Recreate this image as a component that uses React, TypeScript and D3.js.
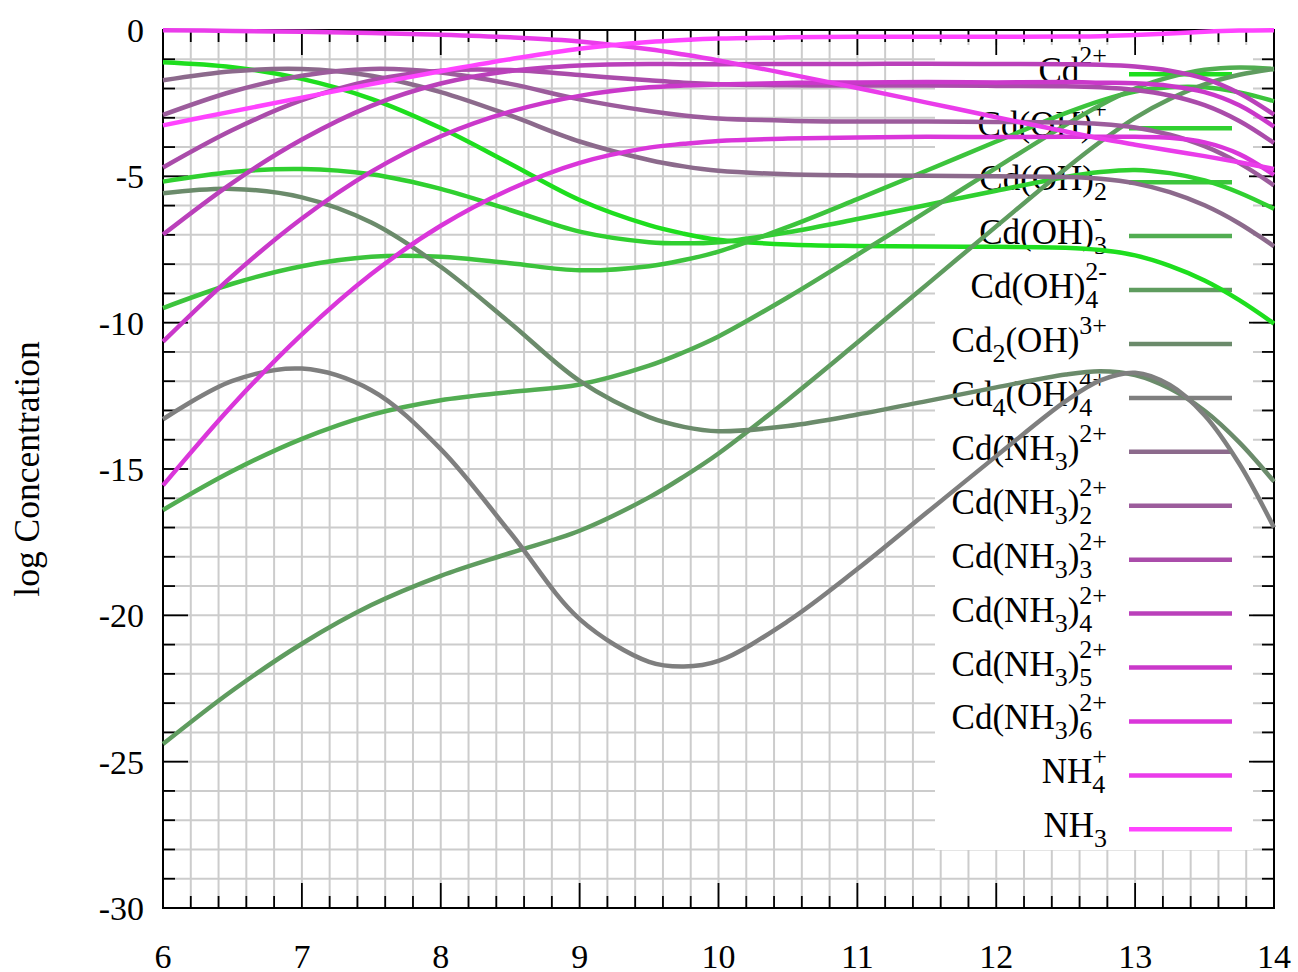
import React from 'react';
import * as d3 from 'd3';

const W = 1298;
const H = 972;
const M = { left: 163, right: 1274, top: 30, bottom: 908 };

// pH sample points
const pH = [6, 6.5, 7, 7.5, 8, 8.5, 9, 9.5, 9.75, 10, 10.5, 11, 11.5, 12, 12.5, 12.75, 13, 13.25, 13.5, 13.75, 14];

// log concentrations
const cd = [-1.10, -1.27, -1.67, -2.35, -3.35, -4.57, -5.81, -6.67, -6.96, -7.17, -7.33, -7.38, -7.40, -7.41, -7.44, -7.52, -7.70, -8.06, -8.56, -9.23, -10.03];
const cdOH = [-5.18, -4.85, -4.75, -4.93, -5.43, -6.15, -6.89, -7.25, -7.29, -7.25, -6.91, -6.46, -5.98, -5.49, -5.02, -4.85, -4.78, -4.89, -5.14, -5.56, -6.11];
const cdOH2 = [-9.50, -8.67, -8.07, -7.75, -7.75, -7.97, -8.21, -8.07, -7.86, -7.57, -6.73, -5.78, -4.80, -3.81, -2.84, -2.42, -2.10, -1.96, -1.96, -2.13, -2.43];
const cdOH3 = [-16.40, -15.07, -13.97, -13.15, -12.65, -12.37, -12.11, -11.47, -11.01, -10.47, -9.13, -7.68, -6.20, -4.71, -3.24, -2.57, -2.00, -1.61, -1.36, -1.28, -1.33];
const cdOH4 = [-24.40, -22.57, -20.97, -19.65, -18.65, -17.87, -17.11, -15.97, -15.26, -14.47, -12.63, -10.68, -8.70, -6.71, -4.74, -3.82, -3.00, -2.36, -1.86, -1.53, -1.33];
const cd2OH = [-5.58, -5.43, -5.72, -6.58, -8.09, -10.01, -11.99, -13.23, -13.56, -13.71, -13.53, -13.14, -12.68, -12.21, -11.77, -11.66, -11.79, -12.25, -13.01, -14.09, -15.43];
const cd4OH4 = [-13.30, -11.99, -11.57, -12.31, -14.32, -17.17, -20.13, -21.59, -21.75, -21.56, -20.20, -18.42, -16.49, -14.56, -12.68, -11.97, -11.71, -12.13, -13.16, -14.82, -17.00];
const cdNH3_1 = [-1.72, -1.41, -1.33, -1.56, -2.12, -2.92, -3.81, -4.44, -4.66, -4.81, -4.93, -4.97, -4.98, -5.00, -5.02, -5.08, -5.24, -5.54, -5.99, -6.61, -7.39];
const cdNH3_2 = [-2.90, -2.10, -1.56, -1.33, -1.45, -1.84, -2.37, -2.77, -2.92, -3.02, -3.10, -3.13, -3.13, -3.14, -3.16, -3.21, -3.33, -3.58, -3.97, -4.55, -5.31];
const cdNH3_3 = [-4.70, -3.42, -2.40, -1.72, -1.39, -1.37, -1.54, -1.72, -1.80, -1.85, -1.89, -1.90, -1.90, -1.91, -1.92, -1.96, -2.05, -2.24, -2.57, -3.11, -3.86];
const cdNH3_4 = [-6.99, -5.22, -3.74, -2.59, -1.83, -1.40, -1.21, -1.16, -1.17, -1.17, -1.16, -1.16, -1.15, -1.16, -1.17, -1.19, -1.25, -1.39, -1.66, -2.16, -2.89];
const cdNH3_5 = [-10.65, -8.40, -6.44, -4.84, -3.63, -2.79, -2.25, -1.96, -1.90, -1.86, -1.81, -1.79, -1.78, -1.79, -1.78, -1.80, -1.82, -1.91, -2.12, -2.57, -3.30];
const cdNH3_6 = [-15.56, -12.82, -10.40, -8.34, -6.69, -5.44, -4.54, -4.02, -3.89, -3.79, -3.71, -3.67, -3.65, -3.66, -3.65, -3.65, -3.65, -3.68, -3.84, -4.24, -4.95];
const nh4 = [-0.01, -0.03, -0.06, -0.10, -0.16, -0.25, -0.39, -0.66, -0.84, -1.04, -1.50, -1.98, -2.48, -2.98, -3.47, -3.71, -3.92, -4.12, -4.31, -4.52, -4.75];
const nh3 = [-3.26, -2.78, -2.31, -1.85, -1.41, -1.00, -0.64, -0.41, -0.34, -0.29, -0.25, -0.23, -0.23, -0.23, -0.22, -0.21, -0.17, -0.12, -0.06, -0.02, -0.005];

const xTickLabels = [6, 7, 8, 9, 10, 11, 12, 13, 14];
const yTickLabels = [0, -5, -10, -15, -20, -25, -30];

const colors = [
  '#1ede1e', '#30d030', '#3cc43c', '#52ad52', '#5f9c5f', '#6b8b6b', '#7f7f7f',
  '#8c6a8c', '#9c5c9c', '#aa4caa', '#ba40ba', '#ca38ca', '#da36da', '#ea3cea', '#ff44ff',
];

type Seg = { t?: string; sub?: string; sup?: string };
const labels: Seg[][] = [
  [{ t: 'Cd' }, { sup: '2+' }],
  [{ t: 'Cd(OH)' }, { sup: '+' }],
  [{ t: 'Cd(OH)' }, { sub: '2' }],
  [{ t: 'Cd(OH)' }, { sub: '3', sup: '-' }],
  [{ t: 'Cd(OH)' }, { sub: '4', sup: '2-' }],
  [{ t: 'Cd' }, { sub: '2' }, { t: '(OH)' }, { sup: '3+' }],
  [{ t: 'Cd' }, { sub: '4' }, { t: '(OH)' }, { sub: '4', sup: '4+' }],
  [{ t: 'Cd(NH' }, { sub: '3' }, { t: ')' }, { sup: '2+' }],
  [{ t: 'Cd(NH' }, { sub: '3' }, { t: ')' }, { sub: '2', sup: '2+' }],
  [{ t: 'Cd(NH' }, { sub: '3' }, { t: ')' }, { sub: '3', sup: '2+' }],
  [{ t: 'Cd(NH' }, { sub: '3' }, { t: ')' }, { sub: '4', sup: '2+' }],
  [{ t: 'Cd(NH' }, { sub: '3' }, { t: ')' }, { sub: '5', sup: '2+' }],
  [{ t: 'Cd(NH' }, { sub: '3' }, { t: ')' }, { sub: '6', sup: '2+' }],
  [{ t: 'NH' }, { sub: '4', sup: '+' }],
  [{ t: 'NH' }, { sub: '3' }],
];

const seriesValues = [cd, cdOH, cdOH2, cdOH3, cdOH4, cd2OH, cd4OH4, cdNH3_1, cdNH3_2, cdNH3_3, cdNH3_4, cdNH3_5, cdNH3_6, nh4, nh3];

const FONT = "'Liberation Serif', 'Times New Roman', serif";
const MAIN_FS = 35;
const SMALL_FS = 26;
const SUB_DY = 10;
const SUP_DY = -18;

function charW(ch: string) {
  if (ch === '+') return 0.564;
  if (ch === '-') return 0.333;
  return 0.5;
}
function strW(s: string) {
  let w = 0;
  for (const c of s) w += charW(c);
  return w * SMALL_FS;
}

function Label({ segs, x, y }: { segs: Seg[]; x: number; y: number }) {
  const parts: React.ReactNode[] = [];
  let cur = 0;
  segs.forEach((s, i) => {
    if (s.t) {
      parts.push(
        <tspan key={i + 't'} dy={-cur} fontSize={MAIN_FS}>{s.t}</tspan>
      );
      cur = 0;
    } else {
      const items: { txt: string; off: number }[] = [];
      if (s.sub) items.push({ txt: s.sub, off: SUB_DY });
      if (s.sup) items.push({ txt: s.sup, off: SUP_DY });
      items.sort((a, b) => strW(a.txt) - strW(b.txt));
      items.forEach((it, j) => {
        const dx = j > 0 ? -strW(items[j - 1].txt) : 0;
        parts.push(
          <tspan key={i + 's' + j} dx={dx} dy={it.off - cur} fontSize={SMALL_FS}>{it.txt}</tspan>
        );
        cur = it.off;
      });
    }
  });
  return (
    <text x={x} y={y} textAnchor="end" fontFamily={FONT} fill="#000">{parts}</text>
  );
}

export default function App() {
  const x = d3.scaleLinear().domain([6, 14]).range([M.left, M.right]);
  const y = d3.scaleLinear().domain([-30, 0]).range([M.bottom, M.top]);

  const xGrid = d3.range(0, 41).map((i) => 6 + i * 0.2);
  const yGrid = d3.range(-30, 1);

  const line = d3
    .line<number>()
    .x((_, i) => x(pH[i]))
    .y((d) => y(d))
    .curve(d3.curveCatmullRom.alpha(0.5));

  const legX0 = 1129;
  const legX1 = 1232;
  const legY0 = 74.3;
  const legStep = 53.93;

  return (
    <svg
      width={W}
      height={H}
      viewBox={`0 0 ${W} ${H}`}
      style={{ position: 'absolute', left: 0, top: 0, background: '#fff' }}
    >
      <rect x={0} y={0} width={W} height={H} fill="#fff" />
      {/* grid */}
      <g stroke="#cccccc" strokeWidth={2}>
        {xGrid.slice(1, -1).map((v, i) => (
          <line key={'gx' + i} x1={x(v)} x2={x(v)} y1={M.top} y2={M.bottom} />
        ))}
        {yGrid.slice(1, -1).map((v, i) => (
          <line key={'gy' + i} x1={M.left} x2={M.right} y1={y(v)} y2={y(v)} />
        ))}
      </g>
      {/* legend background */}
      <rect x={935} y={45} width={318} height={805} fill="#fff" />
      {/* ticks and frame */}
      <g stroke="#000" strokeWidth={1.8}>
        {xGrid.map((v, i) => {
          const major = i % 5 === 0;
          const L = major ? 25 : 12;
          return (
            <g key={'tx' + i}>
              <line x1={x(v)} x2={x(v)} y1={M.bottom} y2={M.bottom - L} />
              <line x1={x(v)} x2={x(v)} y1={M.top} y2={M.top + L} />
            </g>
          );
        })}
        {yGrid.map((v, i) => {
          const major = v % 5 === 0;
          const L = major ? 25 : 12;
          return (
            <g key={'ty' + i}>
              <line x1={M.left} x2={M.left + L} y1={y(v)} y2={y(v)} />
              <line x1={M.right} x2={M.right - L} y1={y(v)} y2={y(v)} />
            </g>
          );
        })}
        <rect x={M.left} y={M.top} width={M.right - M.left} height={M.bottom - M.top} fill="none" strokeWidth={2} />
      </g>
      {/* tick labels */}
      <g fontFamily={FONT} fontSize={34} fill="#000">
        {yTickLabels.map((v) => (
          <text key={'yl' + v} x={144} y={y(v)} dy="0.35em" textAnchor="end">{v}</text>
        ))}
        {xTickLabels.map((v) => (
          <text key={'xl' + v} x={x(v)} y={968} textAnchor="middle">{v}</text>
        ))}
        <text transform={`translate(39, 469) rotate(-90)`} textAnchor="middle" fontSize={35.5}>log Concentration</text>
      </g>
      {/* legend */}
      {labels.map((segs, i) => {
        const ly = legY0 + i * legStep;
        return (
          <g key={'leg' + i}>
            <Label segs={segs} x={1107} y={ly + 8} />
            <line x1={legX0} x2={legX1} y1={ly} y2={ly} stroke={colors[i]} strokeWidth={4.5} />
          </g>
        );
      })}
      {/* curves */}
      <g fill="none" strokeWidth={4.5} strokeLinejoin="round" strokeLinecap="butt">
        {seriesValues.map((vals, i) => (
          <path key={'s' + i} d={line(vals) || ''} stroke={colors[i]} />
        ))}
      </g>
    </svg>
  );
}
